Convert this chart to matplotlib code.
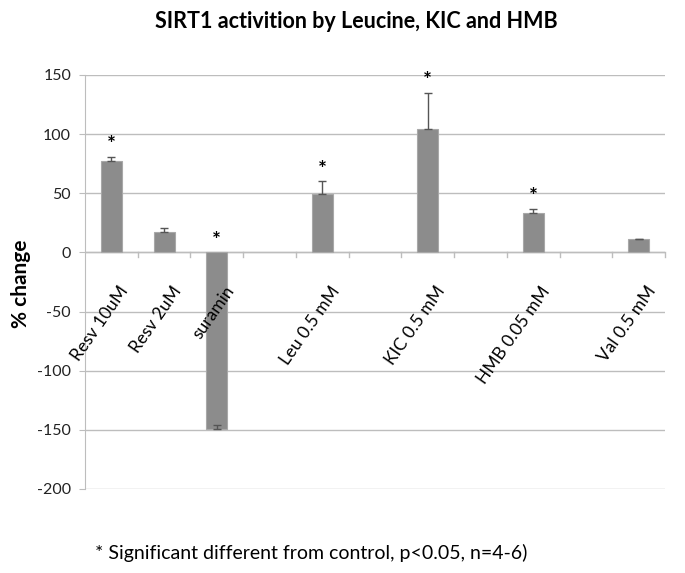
import matplotlib
matplotlib.use("Agg")
import matplotlib.pyplot as plt
import numpy as np

categories = ["Resv 10uM", "Resv 2uM", "suramin", "", "Leu 0.5 mM", "",
              "KIC 0.5 mM", "", "HMB 0.05 mM", "", "Val 0.5 mM"]
values = [77, 17, -149, np.nan, 49, np.nan, 104, np.nan, 33, np.nan, 11]
errors = [4, 4, 3, np.nan, 11, np.nan, 31, np.nan, 4, np.nan, 0.5]
significant = [True, False, True, False, True, False, True, False, True, False, False]
yticks = [-200, -150, -100, -50, 0, 50, 100, 150]

plt.rcParams['font.family'] = ['Lato', 'DejaVu Sans']

fig = plt.figure(figsize=(6.85, 5.73), dpi=100)
ax = fig.add_axes([85/685, 1-489/573, 580/685, (489-75)/573])

x = np.arange(len(categories))
ax.bar(x, values, width=0.4, color='#8c8c8c', edgecolor='#a8a8a8', linewidth=0.8, zorder=3)
for xi, v, e in zip(x, values, errors):
    if np.isnan(v):
        continue
    ax.errorbar([xi], [v], yerr=[[0], [e]], fmt='none', ecolor='#555555',
                elinewidth=1, capsize=3, capthick=1, zorder=4)

for xi, v, e, s in zip(x, values, errors, significant):
    if not s:
        continue
    top = max(v, 0) + (e if v > 0 else 0)
    ax.text(xi, top + 1.5, '*', ha='center', va='bottom', fontsize=15,
            fontweight='bold', color='black')

ax.set_xlim(-0.5, len(categories) - 0.5)
ax.set_ylim(-200, 150)
ax.set_yticks(yticks)
ax.set_yticklabels([str(t) for t in yticks], fontsize=11.5, color='#222222')
ax.yaxis.grid(True, color='#bdbdbd', linewidth=1, zorder=0)
ax.set_axisbelow(True)
for s in ['top', 'right', 'bottom']:
    ax.spines[s].set_visible(False)
ax.spines['left'].set_color('#bdbdbd')
ax.tick_params(axis='y', length=4, color='#bdbdbd', pad=6)
ax.tick_params(axis='x', length=0)
ax.set_xticks([])

ax.axhline(0, color='#bdbdbd', linewidth=1, zorder=2)
for b in np.arange(0.5, len(categories), 1.0):
    ax.plot([b, b], [0, -3.5], color='#bdbdbd', linewidth=1, zorder=2, clip_on=False)

for xi, c in zip(x, categories):
    if c:
        ax.text(xi + 0.14, -26, c, rotation=55, ha='right', va='top',
                rotation_mode='anchor', fontsize=12.5, color='black')

fig.text(356/685, 1 - 22/573, 'SIRT1 activition by Leucine, KIC and HMB',
         ha='center', va='center', fontsize=15.5, fontweight='bold')
fig.text(21/685, 1 - 284/573, '% change', rotation=90, ha='center', va='center',
         fontsize=15, fontweight='bold')
fig.text(95/685, 1 - 553/573, '* Significant different from control, p<0.05, n=4-6)',
         ha='left', va='center', fontsize=14)

fig.savefig('out.png', dpi=100)
